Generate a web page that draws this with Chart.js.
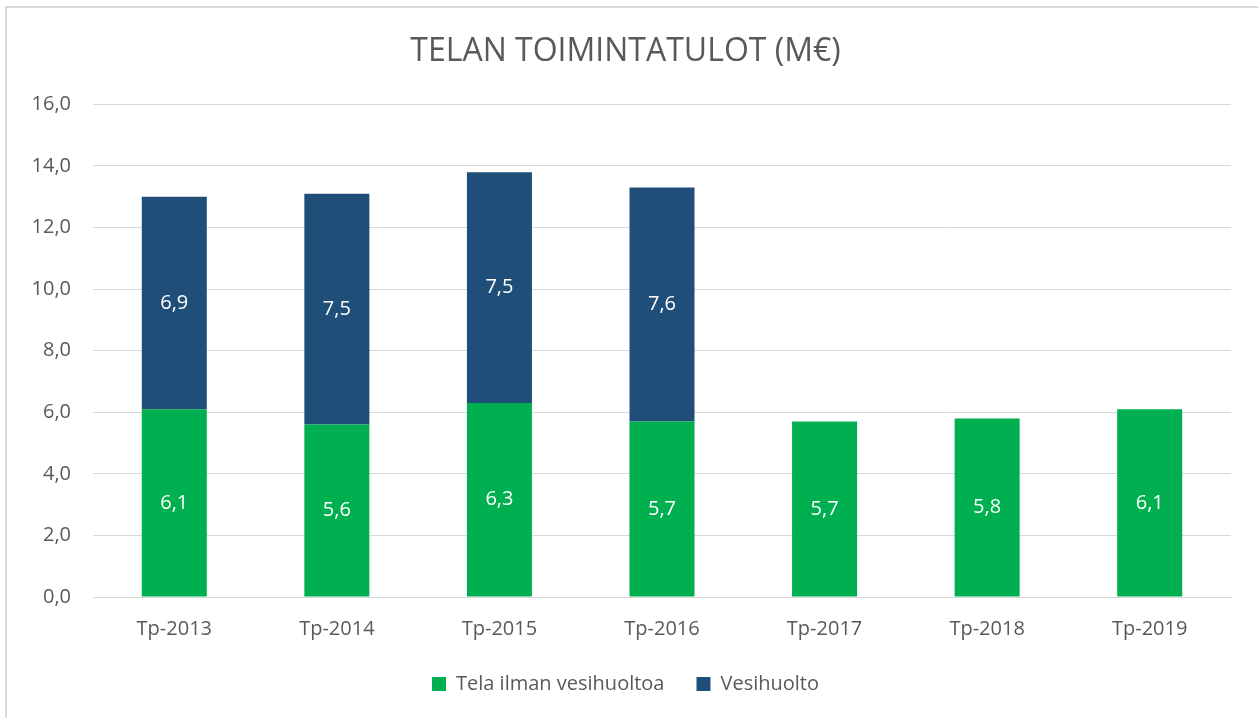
<!DOCTYPE html>
<html>
<head>
<meta charset="utf-8">
<script src="https://cdn.jsdelivr.net/npm/chart.js@4/dist/chart.umd.min.js"></script>
<style>
  html, body { margin: 0; padding: 0; background: #fff; overflow: hidden; }
  #frame { position: absolute; left: 5px; top: 6px; width: 1270px; height: 730px; border: 2px solid #d9d9d9; box-sizing: border-box; }
  #wrap { position: absolute; left: 0; top: 0; width: 1258px; height: 718px; }
</style>
</head>
<body>
<div id="frame"></div>
<div id="wrap"><canvas id="myBarChart" width="1258" height="718"></canvas></div>
<script>
// TELAN TOIMINTATULOT - stacked bars

var years = ['Tp-2013', 'Tp-2014', 'Tp-2015', 'Tp-2016', 'Tp-2017', 'Tp-2018', 'Tp-2019'];
var telaIlman = [6.1, 5.6, 6.3, 5.7, 5.7, 5.8, 6.1];
var vesihuolto = [6.9, 7.5, 7.5, 7.6, null, null, null];
var yTicks = [0, 2, 4, 6, 8, 10, 12, 14, 16];

var FONT = '"Open Sans", "Liberation Sans", sans-serif';

function fi(v) {
  return v.toFixed(1).replace('.', ',');
}

// white value labels in the middle of each segment
var valueLabels = {
  id: 'valueLabels',
  afterDatasetsDraw: function(chart) {
    var ctx = chart.ctx;
    ctx.save();
    ctx.fillStyle = '#ffffff';
    ctx.font = '20px ' + FONT;
    ctx.textAlign = 'center';
    ctx.textBaseline = 'middle';
    chart.data.datasets.forEach(function(ds, i) {
      var meta = chart.getDatasetMeta(i);
      meta.data.forEach(function(bar, j) {
        var v = ds.data[j];
        if (v == null) return;
        var mid = (bar.y + bar.base) / 2;
        ctx.fillText(fi(v), bar.x, mid);
      });
    });
    ctx.restore();
  }
};

var ctxBar = document.getElementById('myBarChart').getContext('2d');
var myChart = new Chart(ctxBar, {
  type: 'bar',
  data: {
    labels: years,
    datasets: [{
      label: 'Tela ilman vesihuoltoa',
      data: telaIlman,
      backgroundColor: '#00b050',
      categoryPercentage: 1,
      barPercentage: 0.4
    }, {
      label: 'Vesihuolto',
      data: vesihuolto,
      backgroundColor: '#1f4e79',
      categoryPercentage: 1,
      barPercentage: 0.4
    }]
  },
  options: {
    responsive: false,
    animation: false,
    layout: { padding: { left: 20, right: 27, top: 10, bottom: 14 } },
    plugins: {
      title: {
        display: true,
        text: 'TELAN TOIMINTATULOT (M€)',
        color: '#595959',
        font: { family: FONT, size: 32, weight: 'normal' },
        padding: { top: 23, bottom: 33 }
      },
      legend: {
        position: 'bottom',
        labels: {
          color: '#595959',
          font: { family: FONT, size: 20 },
          boxWidth: 14,
          boxHeight: 14,
          padding: 32
        }
      },
      tooltip: { enabled: false }
    },
    scales: {
      x: {
        stacked: true,
        grid: { display: false, drawTicks: false },
        border: { color: '#d9d9d9', width: 1 },
        afterFit: function(scale) { scale.height = scale.height - 19; },
        ticks: { color: '#595959', font: { family: FONT, size: 20 }, padding: 20 }
      },
      y: {
        stacked: true,
        min: 0,
        max: 16,
        afterBuildTicks: function(scale) {
          scale.ticks = yTicks.map(function(v) { return { value: v }; });
        },
        afterFit: function(scale) { scale.width = 73; },
        grid: { color: '#d9d9d9', drawTicks: false },
        border: { display: false },
        ticks: {
          color: '#595959',
          font: { family: FONT, size: 20 },
          padding: 22,
          callback: function(v) { return fi(v); }
        }
      }
    }
  },
  plugins: [valueLabels]
});
</script>
</body>
</html>
